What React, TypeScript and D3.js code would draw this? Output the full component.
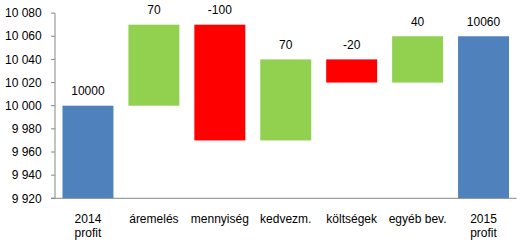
import React from "react";
import * as d3 from "d3";

const categories = ["2014\nprofit", "áremelés", "mennyiség", "kedvezm.", "költségek", "egyéb bev.", "2015\nprofit"];
const values = [10000, 70, -100, 70, -20, 40, 10060];
const isTotal = [true, false, false, false, false, false, true];
const yTicks = [9920, 9940, 9960, 9980, 10000, 10020, 10040, 10060, 10080];

const W = 525;
const H = 246;
const left = 55;
const right = 516.5;
const top = 13.1;
const bottom = 198.3;

const locale = d3.formatLocale({ decimal: ",", thousands: "\u00a0", grouping: [3], currency: ["", ""] });
const fmt = locale.format(",d");

export default function App() {
  const x = d3.scaleBand<string>().domain(categories).range([left, right]).paddingInner(0.227).paddingOuter(0.1135);
  const y = d3.scaleLinear().domain([9920, 10080]).range([bottom, top]);

  let running = 0;
  const bars = categories.map((c, i) => {
    let y0: number, y1: number, color: string;
    if (isTotal[i]) {
      y0 = 9920;
      y1 = values[i];
      running = values[i];
      color = "#4F81BD";
    } else {
      y0 = running;
      y1 = running + values[i];
      running = y1;
      color = values[i] >= 0 ? "#92D050" : "#FF0000";
    }
    return { c, i, lo: Math.min(y0, y1), hi: Math.max(y0, y1), color, v: values[i] };
  });

  const font = "'Liberation Sans', Arial, sans-serif";

  return (
    <svg width={W} height={H} style={{ position: "absolute", left: 0, top: 0 }} fontFamily={font} fontSize={12}>
      <rect x={0} y={0} width={W} height={H} fill="#fff" />
      {bars.map((b) => (
        <rect key={b.c} x={x(b.c)} width={x.bandwidth()} y={y(b.hi)} height={y(b.lo) - y(b.hi)} fill={b.color} />
      ))}
      {bars.map((b) => (
        <text key={"l" + b.c} x={(x(b.c) as number) + x.bandwidth() / 2} y={y(b.hi) - 10.5} textAnchor="middle" fill="#000">
          {String(b.v)}
        </text>
      ))}
      <line x1={left} x2={left} y1={top} y2={bottom} stroke="#868686" strokeWidth={1} />
      <line x1={left - 4} x2={right} y1={bottom} y2={bottom} stroke="#868686" strokeWidth={1} />
      {yTicks.map((t) => (
        <g key={t}>
          <line x1={left - 4} x2={left} y1={y(t)} y2={y(t)} stroke="#868686" />
          <text x={41.7} y={y(t)} dy="0.35em" textAnchor="end" fill="#000">
            {fmt(t)}
          </text>
        </g>
      ))}
      {categories.map((c) => (
        <text key={"c" + c} x={(x(c) as number) + x.bandwidth() / 2} y={222.5} textAnchor="middle" fill="#000">
          {c.split("\n").map((line, k) => (
            <tspan key={k} x={(x(c) as number) + x.bandwidth() / 2} dy={k === 0 ? 0 : 14}>
              {line}
            </tspan>
          ))}
        </text>
      ))}
    </svg>
  );
}
